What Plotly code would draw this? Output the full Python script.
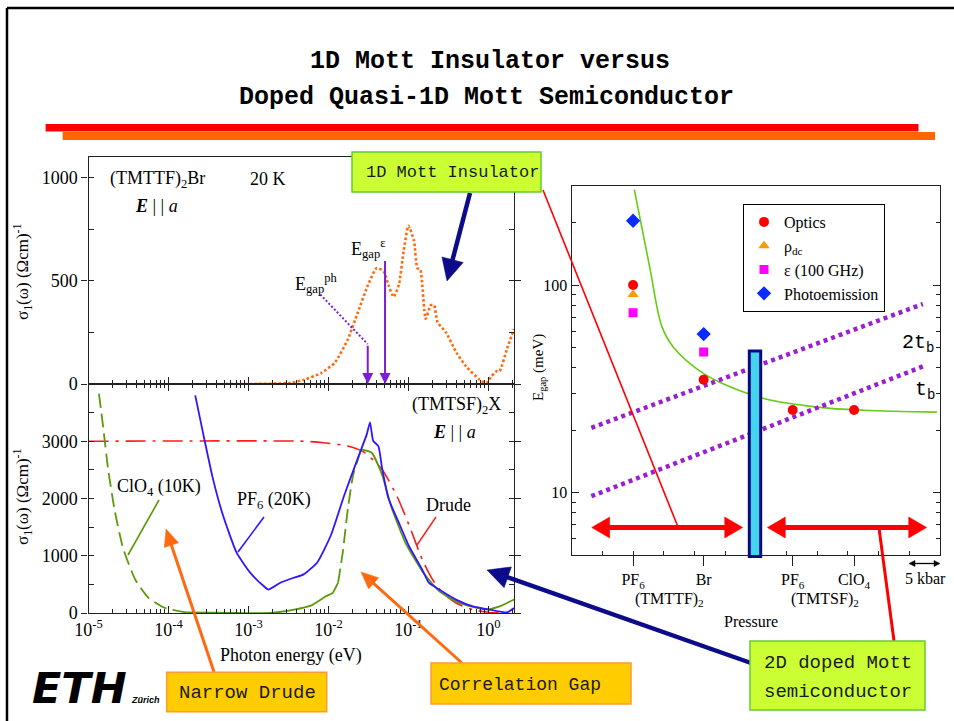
import math
import plotly.graph_objects as go

W, H = 954, 721
SERIF = "Liberation Serif"
MONO = "Liberation Mono"

# ---------------- data ----------------
# Top panel: (TMTTF)2Br, 20 K, E||a  (photon energy in eV, sigma1 in (Ohm cm)^-1)
br_energy_ev = [5.2e-4, 1.05e-3, 3.35e-3, 5.0e-3, 8.1e-3, 0.012, 0.0175, 0.0234, 0.0312, 0.0401,
                0.049, 0.0562, 0.0652, 0.0759, 0.0871, 0.100, 0.1175, 0.129, 0.141, 0.164,
                0.191, 0.209, 0.231, 0.295, 0.398, 0.525, 0.776, 0.944, 1.09, 1.26,
                1.38, 1.70, 2.09]
br_sigma = [0, 0, 5, 21, 53, 103, 217, 349, 480, 562,
            546, 480, 422, 480, 644, 767, 693, 562, 553, 316,
            382, 382, 300, 250, 152, 86, 21, 5, 37, 62,
            62, 168, 267]

egap_ph_ev = 0.031
egap_eps_ev = 0.051
egap_ph_leader_ev = [0.0079, egap_ph_ev]
egap_ph_leader_sigma = [434, 193]
egap_eps_start_sigma = 603

# Bottom panel: (TMTSF)2X
drude_ev = [1e-5, 4.9e-3, 8.7e-3, 0.0174, 0.0285, 0.0468, 0.0724, 0.106, 0.148, 0.20,
            0.267, 0.393, 0.64, 1.05, 2.09]
drude_sigma = [3000, 3000, 2975, 2916, 2800, 2505, 2031, 1473, 943, 588,
               352, 175, 58, 10, 0]

pf6_ev = [2.16e-4, 2.67e-4, 3.58e-4, 4.79e-4, 7.08e-4, 1.05e-3, 1.55e-3, 1.78e-3, 2.51e-3, 3.72e-3,
          4.9e-3, 7.24e-3, 0.0107, 0.0158, 0.0234, 0.0302, 0.0331, 0.0363, 0.0421, 0.0468,
          0.0562, 0.0752, 0.101, 0.148, 0.180, 0.242, 0.393, 0.64, 1.05, 1.70, 2.09]
pf6_sigma = [3801, 3181, 2356, 1710, 1059, 705, 471, 410, 529, 618,
             675, 883, 1354, 2061, 2710, 3124, 3330, 3005, 2916, 2534,
             2003, 1590, 1178, 764, 529, 410, 234, 115, 58, 10, 87]

clo4_ev = [1.35e-5, 1.51e-5, 1.75e-5, 2.14e-5, 2.72e-5, 3.83e-5, 5.62e-5, 9.12e-5, 1.66e-4, 7.1e-4,
           1.86e-3, 3.72e-3, 6.0e-3, 9.3e-3, 0.0113, 0.0132, 0.0151, 0.0175, 0.0204, 0.0257,
           0.0347, 0.0468, 0.0621, 0.0912, 0.148, 0.242, 0.393, 0.64, 0.944, 1.38, 2.09]
clo4_sigma = [3830, 3300, 2534, 1766, 1119, 588, 264, 87, 10, 0,
              0, 58, 128, 293, 352, 529, 1059, 1825, 2415, 2857,
              2800, 2415, 1825, 1236, 735, 382, 204, 105, 58, 115, 234]
# segments of the ClO4 curve drawn dashed (extrapolated) / solid (measured): (start, end, dashed)
clo4_segments = [(0, 8, True), (8, 15, False), (15, 19, True), (19, 30, False)]

# Right panel: E_gap vs pressure (kbar scale, arbitrary origin)
pressure_ticks = [10, 21.5, 36, 46]
pressure_labels = ["PF<sub>6</sub>", "Br", "PF<sub>6</sub>", "ClO<sub>4</sub>"]

optics_p = [10, 21.5, 36, 46]
optics_egap = [100, 35, 25, 25]
rhodc_p = [10]
rhodc_egap = [90]
eps_p = [10, 21.5]
eps_egap = [73.5, 47.6]
photo_p = [10, 21.5]
photo_egap = [204, 58]

green_p = [10.2, 11.4, 12.8, 14.7, 16.6, 21.5, 25.8, 31.3, 40.0, 47.6, 59.5]
green_egap = [288, 191, 118, 63, 50, 37.4, 32.3, 28.4, 25.8, 24.9, 24.4]

tb_p = [3.2, 57.2]
tb_egap = [9.6, 40.5]
two_tb_p = [3.2, 57.2]
two_tb_egap = [20.5, 81]

# ---------------- helpers ----------------
def px(x):
    return x / W

def py(y):
    return 1 - y / H

shapes = []
annotations = []


def line(x0, y0, x1, y1, color, width, dash="solid"):
    shapes.append(dict(type="line", xref="paper", yref="paper",
                       x0=px(x0), y0=py(y0), x1=px(x1), y1=py(y1),
                       line=dict(color=color, width=width, dash=dash)))


def rect(x0, y0, x1, y1, fill, color, width):
    shapes.append(dict(type="rect", xref="paper", yref="paper",
                       x0=px(x0), y0=py(y0), x1=px(x1), y1=py(y1),
                       fillcolor=fill, line=dict(color=color, width=width)))


def head(tx, ty, ux, uy, hl, hw, color):
    nx, ny = -uy, ux
    bx, by = tx - ux * hl, ty - uy * hl
    p = (f"M {px(tx)},{py(ty)} L {px(bx + nx * hw / 2)},{py(by + ny * hw / 2)} "
         f"L {px(bx - nx * hw / 2)},{py(by - ny * hw / 2)} Z")
    shapes.append(dict(type="path", xref="paper", yref="paper", path=p,
                       fillcolor=color, line=dict(color=color, width=0.5)))


def arrow(x0, y0, x1, y1, color, width, hl, hw, double=False):
    dx, dy = x1 - x0, y1 - y0
    L = math.hypot(dx, dy)
    ux, uy = dx / L, dy / L
    ex, ey = x1 - ux * hl * 0.6, y1 - uy * hl * 0.6
    sx, sy = (x0 + ux * hl * 0.6, y0 + uy * hl * 0.6) if double else (x0, y0)
    line(sx, sy, ex, ey, color, width)
    head(x1, y1, ux, uy, hl, hw, color)
    if double:
        head(x0, y0, -ux, -uy, hl, hw, color)


def text(x, y, s, size, family=SERIF, xanchor="center", angle=0, color="black"):
    annotations.append(dict(x=px(x), y=py(y), xref="paper", yref="paper", text=s,
                            showarrow=False, xanchor=xanchor, yanchor="middle",
                            textangle=angle, font=dict(family=family, size=size, color=color)))


# ---------------- traces ----------------
fig = go.Figure()

ORANGE = "#ff6a10"
PURPLE = "#7a1fd6"
BLUE = "#3016ff"
GREEN = "#5a9a0a"
RED = "#ff1a1a"

fig.add_trace(go.Scatter(x=br_energy_ev, y=br_sigma, mode="lines", xaxis="x", yaxis="y",
                         line=dict(color=ORANGE, width=2.6, dash="2.6px,2.2px", shape="spline",
                                   smoothing=0.5), showlegend=False))
fig.add_trace(go.Scatter(x=egap_ph_leader_ev, y=egap_ph_leader_sigma, mode="lines", xaxis="x", yaxis="y",
                         line=dict(color=PURPLE, width=2, dash="2px,2px"), showlegend=False))

fig.add_trace(go.Scatter(x=drude_ev, y=drude_sigma, mode="lines", xaxis="x2", yaxis="y2",
                         line=dict(color=RED, width=1.6, dash="20px,7px,3px,7px", shape="spline",
                                   smoothing=0.6), showlegend=False))
for a, b, dashed in clo4_segments:
    fig.add_trace(go.Scatter(x=clo4_ev[a:b + 1], y=clo4_sigma[a:b + 1], mode="lines", xaxis="x2", yaxis="y2",
                             line=dict(color=GREEN, width=1.8, dash="14px,6px" if dashed else "solid",
                                       shape="spline", smoothing=0.5),
                             showlegend=False))
fig.add_trace(go.Scatter(x=pf6_ev, y=pf6_sigma, mode="lines", xaxis="x2", yaxis="y2",
                         line=dict(color=BLUE, width=1.8, shape="spline", smoothing=0.5), showlegend=False))

# right panel
fig.add_trace(go.Scatter(x=green_p, y=green_egap, mode="lines", xaxis="x3", yaxis="y3",
                         line=dict(color="#66cc11", width=1.6, shape="spline"), showlegend=False))
fig.add_trace(go.Scatter(x=two_tb_p, y=two_tb_egap, mode="lines", xaxis="x3", yaxis="y3",
                         line=dict(color="#9a1fd0", width=4.5, dash="4px,4px"), showlegend=False))
fig.add_trace(go.Scatter(x=tb_p, y=tb_egap, mode="lines", xaxis="x3", yaxis="y3",
                         line=dict(color="#9a1fd0", width=4.5, dash="4px,4px"), showlegend=False))
fig.add_trace(go.Scatter(x=optics_p, y=optics_egap, mode="markers", xaxis="x3", yaxis="y3", name="Optics",
                         marker=dict(symbol="circle", size=10, color="#ff0000")))
fig.add_trace(go.Scatter(x=rhodc_p, y=rhodc_egap, mode="markers", xaxis="x3", yaxis="y3",
                         name="ρ<sub>dc</sub>",
                         marker=dict(symbol="triangle-up", size=10, color="#ff9900")))
fig.add_trace(go.Scatter(x=eps_p, y=eps_egap, mode="markers", xaxis="x3", yaxis="y3", name="ε (100 GHz)",
                         marker=dict(symbol="square", size=9, color="#ff00ff")))
fig.add_trace(go.Scatter(x=photo_p, y=photo_egap, mode="markers", xaxis="x3", yaxis="y3", name="Photoemission",
                         marker=dict(symbol="diamond", size=11, color="#0a2aff")))

# ---------------- axes ----------------
decades = [1e-5, 1e-4, 1e-3, 1e-2, 1e-1, 1e0]
minor_log = [m * d for d in [1e-5, 1e-4, 1e-3, 1e-2, 1e-1, 1e0] for m in range(2, 10) if m * d < 2.1]
AX = dict(showline=True, linecolor="#222", linewidth=1.3, showgrid=False, zeroline=False,
          automargin=False, tickcolor="#222", tickfont=dict(family=SERIF, size=18, color="black"))

x_dom = [px(88.5), px(514)]
fig.update_layout(
    xaxis=dict(AX, domain=x_dom, type="log", range=[-5, 0.32], anchor="y", mirror=True,
               ticks="inside", ticklen=7, tickvals=decades, showticklabels=False,
               minor=dict(tickvals=minor_log, ticks="inside", ticklen=4, tickcolor="#222")),
    yaxis=dict(AX, domain=[py(384), py(157)], range=[0, 1100], anchor="x", mirror="ticks",
               ticks="outside", ticklen=6, tickvals=[0, 500, 1000],
               minor=dict(dtick=250, ticks="inside", ticklen=5, tickcolor="#222")),
    xaxis2=dict(AX, domain=x_dom, type="log", range=[-5, 0.32], anchor="y2", mirror="ticks",
                ticks="inside", ticklen=7, tickvals=decades,
                ticktext=["10<sup>-5</sup>", "10<sup>-4</sup>", "10<sup>-3</sup>", "10<sup>-2</sup>",
                          "10<sup>-1</sup>", "10<sup>0</sup>"],
                minor=dict(tickvals=minor_log, ticks="inside", ticklen=4, tickcolor="#222")),
    yaxis2=dict(AX, domain=[py(613), py(384)], range=[0, 4000], anchor="x2", mirror="ticks",
                ticks="outside", ticklen=6, tickvals=[0, 1000, 2000, 3000],
                minor=dict(dtick=500, ticks="inside", ticklen=5, tickcolor="#222")),
    xaxis3=dict(AX, domain=[px(571.7), px(940)], range=[0, 60], anchor="y3", mirror=True,
                ticks="outside", ticklen=10, tickvals=pressure_ticks, ticktext=pressure_labels,
                tickfont=dict(family=SERIF, size=16, color="black"),
                minor=dict(tick0=0, dtick=5, ticks="inside", ticklen=4, tickcolor="#222")),
    yaxis3=dict(AX, domain=[py(555), py(186)], type="log", range=[math.log10(5), math.log10(300)],
                anchor="x3", mirror="ticks", ticks="inside", ticklen=7, tickvals=[10, 100],
                ticktext=["10", "100"], tickfont=dict(family=SERIF, size=16, color="black"),
                minor=dict(tickvals=[5, 6, 7, 8, 9, 20, 30, 40, 50, 60, 70, 80, 90, 200, 300],
                           ticks="inside", ticklen=4, tickcolor="#222")),
)

# ---------------- decorations ----------------
# slide frame
line(7, 8, 954, 8, "black", 2.5)
line(7, 8, 7, 721, "black", 2.5)
# title bars
rect(62.7, 132, 935, 140, "#ff6600", "#ff6600", 0)
rect(45.6, 124, 918.5, 131.5, "#ff0000", "#ff0000", 0)
text(490, 62, "<b>1D Mott Insulator versus</b>", 25, MONO)
text(487, 98, "<b>Doped Quasi-1D Mott Semiconductor</b>", 25, MONO)

# left panel labels
text(108, 179, "(TMTTF)<sub>2</sub>Br", 18, xanchor="left")
text(248, 179, "20 K", 18, xanchor="left")
text(133, 206, "<b><i>E</i></b> | | <i>a</i>", 18, xanchor="left")
text(316, 283, "E<sub>gap</sub><sup>ph</sup>", 18)
text(368, 248, "E<sub>gap</sub><sup>ε</sup>", 18)
text(503, 405, "(TMTSF)<sub>2</sub>X", 18, xanchor="right")
text(454, 432, "<b><i>E</i></b> | | <i>a</i>", 18)
text(115, 487, "ClO<sub>4</sub> (10K)", 18, xanchor="left")
text(235, 500, "PF<sub>6</sub> (20K)", 18, xanchor="left")
text(424, 505, "Drude", 18, xanchor="left")
line(159, 500, 128, 555, GREEN, 1.6)
line(264, 517, 238, 552, BLUE, 1.6)
line(436, 517, 417, 545, RED, 1.4)
text(22, 272, "σ<sub>1</sub>(ω) (Ωcm)<sup>-1</sup>", 17, angle=-90)
text(22, 497, "σ<sub>1</sub>(ω) (Ωcm)<sup>-1</sup>", 17, angle=-90)
text(291, 655, "Photon energy (eV)", 18)

# E_gap arrows (data coordinates)
for ev, start in [(egap_ph_ev, egap_ph_leader_sigma[1]), (egap_eps_ev, egap_eps_start_sigma)]:
    annotations.append(dict(x=math.log10(ev), y=0, xref="x", yref="y", ax=math.log10(ev), ay=start,
                            axref="x", ayref="y", showarrow=True, arrowhead=2, arrowsize=1.1,
                            arrowwidth=2, arrowcolor=PURPLE, text=""))

# right panel labels
text(539, 368, "E<sub>gap</sub> (meV)", 15, angle=-90)
text(669, 599, "(TMTTF)<sub>2</sub>", 16)
text(825, 599, "(TMTSF)<sub>2</sub>", 16)
text(925, 578, "5 kbar", 16)
arrow(909, 563.5, 940, 563.5, "black", 1.3, 6, 6, double=True)
text(751, 621, "Pressure", 16)
text(918, 343, "2t<sub>b</sub>", 20, MONO)
text(925, 390, "t<sub>b</sub>", 20, MONO)

# blue boundary bar
rect(749.3, 351, 760.7, 556.5, "#44d4ee", "#0a0a80", 3)
# red range double arrows
arrow(591.7, 527.5, 742.7, 527.5, "#ff0000", 5, 18, 21, double=True)
arrow(767.3, 527.5, 926.7, 527.5, "#ff0000", 5, 18, 21, double=True)

# callouts
NAVY = "#0c0c8a"
line(543, 190, 678, 527, "#ff0000", 1.6)
line(879, 528, 894, 641, "#ff0000", 3)
arrow(470, 193, 447, 281, NAVY, 4.5, 22, 22)
arrow(751, 663, 487, 570, NAVY, 4.5, 22, 22)
arrow(214, 672, 166, 529, "#ff6a10", 3, 17, 15)
arrow(462, 663, 361, 572, "#ff6a10", 3, 17, 15)

rect(352, 152, 541, 192, "#ccff33", "#66cc33", 1.5)
text(364, 172.5, "1D Mott Insulator", 17, MONO, xanchor="left", color="#1a1a1a")
rect(166.7, 672.3, 326.7, 711.7, "#ffcc00", "#ff9933", 1.5)
text(247, 693, "Narrow Drude", 19, MONO, color="#1a1a1a")
rect(431, 663, 631, 704, "#ffcc00", "#ff9933", 1.5)
text(520, 685, "Correlation Gap", 18, MONO, color="#1a1a1a")
rect(750, 641, 925, 710, "#ccff33", "#66cc33", 1.5)
text(762, 663, "2D doped Mott", 19, MONO, xanchor="left", color="#1a1a1a")
text(762, 692, "semiconductor", 19, MONO, xanchor="left", color="#1a1a1a")

# ETH logo
text(79, 688, "<b><i>ETH</i></b>", 43, "DejaVu Sans")
text(145, 700, "<b><i>Zürich</i></b>", 9, "Liberation Sans")

fig.update_layout(
    width=W, height=H, margin=dict(l=0, r=0, t=0, b=0, pad=0, autoexpand=False),
    paper_bgcolor="white", plot_bgcolor="white",
    font=dict(family=SERIF, size=16, color="black"),
    shapes=shapes, annotations=annotations,
    legend=dict(x=px(743), y=py(204), xanchor="left", yanchor="top", bordercolor="black",
                borderwidth=1, bgcolor="white", font=dict(family=SERIF, size=16),
                itemwidth=30, tracegroupgap=0),
)

fig.write_html("out.html")
